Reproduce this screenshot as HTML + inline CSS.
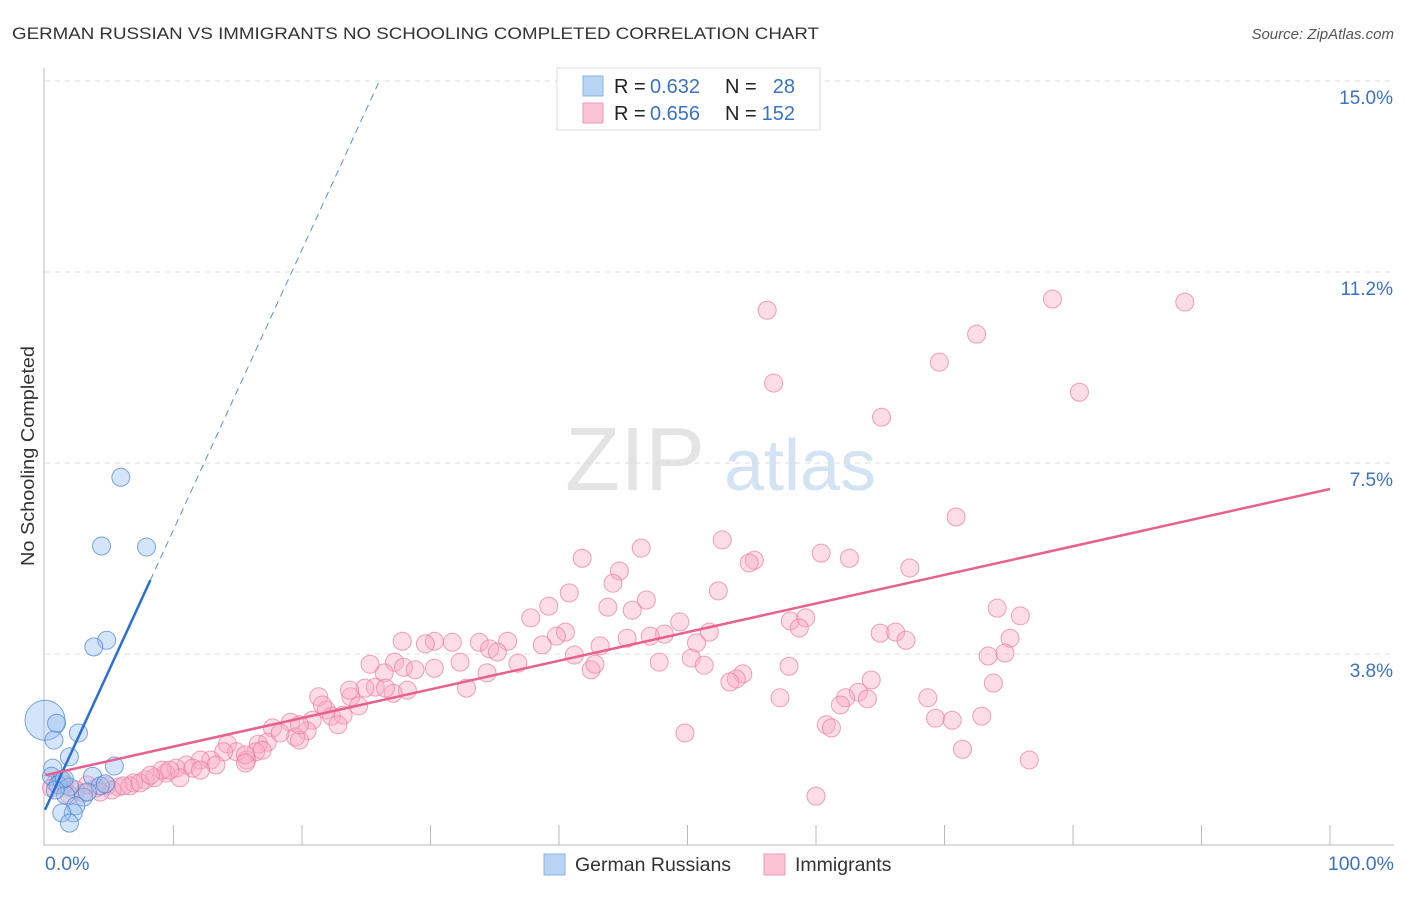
<!DOCTYPE html>
<html><head><meta charset="utf-8"><style>
body{margin:0;background:#fff;font-family:"Liberation Sans",sans-serif}
svg text{font-family:"Liberation Sans",sans-serif}
</style></head><body>
<svg id="chart" width="1406" height="892">
<text x="12" y="39" font-size="17" fill="#333" textLength="807" lengthAdjust="spacingAndGlyphs">GERMAN RUSSIAN VS IMMIGRANTS NO SCHOOLING COMPLETED CORRELATION CHART</text>
<text x="1394" y="39" font-size="15" fill="#555" font-style="italic" text-anchor="end">Source: ZipAtlas.com</text>
<text x="34" y="456" font-size="18" fill="#333" text-anchor="middle" textLength="220" lengthAdjust="spacingAndGlyphs" transform="rotate(-90 34 456)">No Schooling Completed</text>
<g><text x="635" y="490" font-size="90" fill="#e4e4e4" text-anchor="middle" font-family="Liberation Serif">ZIP</text><text x="800" y="490" font-size="72" fill="#d3e3f3" text-anchor="middle">atlas</text></g>
<g id="grid"></g><g id="axes"></g><g id="pts"></g><g id="lines"></g>
<g>
<rect x="557" y="68" width="263" height="62" fill="#fff" stroke="#ddd"/>
<rect x="583" y="76" width="20" height="20" fill="#b8d4f5" stroke="#8ab4e8"/>
<rect x="583" y="103" width="20" height="20" fill="#fac4d4" stroke="#f09ab5"/>
<text x="614" y="93" font-size="20" fill="#222">R =</text><text x="650" y="93" font-size="20" fill="#3a72c8">0.632</text>
<text x="725" y="93" font-size="20" fill="#222">N =</text><text x="795" y="93" font-size="20" fill="#3a72c8" text-anchor="end">28</text>
<text x="614" y="120" font-size="20" fill="#222">R =</text><text x="650" y="120" font-size="20" fill="#3a72c8">0.656</text>
<text x="725" y="120" font-size="20" fill="#222">N =</text><text x="795" y="120" font-size="20" fill="#3a72c8" text-anchor="end">152</text>
</g>
<g>
<rect x="544" y="854" width="21" height="21" fill="#b8d4f5" stroke="#8ab4e8"/>
<text x="575" y="871" font-size="19.5" fill="#333">German Russians</text>
<rect x="764" y="854" width="21" height="21" fill="#fac4d4" stroke="#f09ab5"/>
<text x="795" y="871" font-size="19.5" fill="#333">Immigrants</text>
</g>
</svg>
<script>
const yTicks=[3.75,7.5,11.25,15];
const yTickLabels=["3.8%","7.5%","11.2%","15.0%"];
const xTickLabels=["0.0%","100.0%"];
const blueX=[5.9,4.4,7.9,4.8,3.8,0,0.9,2.6,0.7,1.9,0.6,5.4,0.5,1.3,3.7,1.0,4.3,1.9,1.6,3.0,2.4,2.2,1.3,1.9,4.7,1.5,3.3,0.8];
const blueY=[7.22,5.87,5.85,4.02,3.89,2.45,2.39,2.20,2.06,1.73,1.51,1.55,1.35,1.28,1.35,1.18,1.16,1.14,0.98,0.94,0.77,0.63,0.63,0.43,1.20,1.30,1.04,1.08];
const pinkX=[56.2,78.4,88.7,72.5,69.6,56.7,80.5,65.1,70.9,41.8,46.4,52.7,55.2,54.8,60.4,62.6,67.3,44.7,44.2,40.8,52.4,46.8,39.2,43.8,45.7,37.8,74.1,75.9,58.0,59.2,58.7,49.4,48.2,40.5,39.8,51.7,47.1,45.3,65.0,66.2,67.0,75.1,30.3,31.7,29.6,27.8,33.8,34.6,36.0,35.2,36.8,38.7,43.2,50.7,41.2,32.3,27.2,27.9,28.8,30.3,26.4,25.3,47.8,50.3,51.3,54.3,53.8,53.3,42.5,42.8,57.9,74.7,73.4,64.3,73.8,34.4,32.8,28.2,27.1,25.7,24.9,23.8,21.3,24.4,26.5,57.2,63.3,62.3,61.9,64.0,68.7,69.3,70.6,72.9,21.9,22.3,20.8,23.2,17.7,19.1,20.4,22.8,19.5,19.8,17.3,16.6,60.8,61.2,49.8,71.4,76.6,60.0,14.2,14.9,13.9,16.4,15.7,16.9,12.9,12.1,13.3,11.0,11.5,10.2,9.4,8.5,7.8,6.9,5.7,4.8,4.0,3.3,2.4,1.5,0.8,0.5,6.6,9.1,10.5,12.1,3.0,5.2,7.4,1.9,1.2,4.3,6.1,8.2,9.7,15.6,18.3,19.8,21.6,23.7,15.6];
const pinkY=[10.50,10.72,10.66,10.03,9.48,9.07,8.89,8.40,6.44,5.63,5.83,5.99,5.59,5.54,5.73,5.63,5.44,5.38,5.14,4.95,4.99,4.81,4.69,4.67,4.61,4.46,4.65,4.50,4.40,4.46,4.26,4.38,4.14,4.18,4.10,4.18,4.10,4.06,4.16,4.18,4.02,4.06,4.00,3.98,3.95,4.00,3.98,3.85,4.00,3.79,3.57,3.93,3.91,3.97,3.73,3.59,3.59,3.49,3.44,3.47,3.38,3.55,3.59,3.67,3.53,3.36,3.26,3.20,3.44,3.55,3.51,3.77,3.71,3.24,3.18,3.38,3.08,3.04,2.98,3.10,3.08,2.91,2.91,2.73,3.08,2.89,3.00,2.89,2.75,2.87,2.89,2.49,2.45,2.53,2.65,2.53,2.45,2.55,2.30,2.41,2.24,2.36,2.12,2.06,2.02,1.98,2.36,2.30,2.20,1.88,1.67,0.96,1.98,1.83,1.83,1.83,1.67,1.86,1.67,1.67,1.57,1.57,1.51,1.51,1.41,1.32,1.28,1.22,1.14,1.16,1.12,1.18,1.08,1.18,1.22,1.12,1.16,1.47,1.32,1.47,1.02,1.08,1.22,0.98,1.28,1.04,1.16,1.37,1.47,1.77,2.20,2.36,2.75,3.04,1.61];
const blueFit=[0.69,0.55];   // intercept, slope
const pinkFit=[1.37,0.0562];
const NS="http://www.w3.org/2000/svg";
const X=v=>45+v*12.85, Y=v=>845-v*50.93;
function mk(p,t,a){const e=document.createElementNS(NS,t);for(const k in a)e.setAttribute(k,a[k]);document.getElementById(p).appendChild(e);return e;}
yTicks.forEach((t,i)=>{
 const g=mk('grid','line',{x1:45,x2:1394,y1:Y(t),y2:Y(t),stroke:'#ddd','stroke-dasharray':'5,5'});
 
 
 const l=mk('axes','text',{x:1393,y:Y(t)+23,'font-size':19,fill:'#3a72c8','text-anchor':'end'});l.textContent=yTickLabels[i];
 
 
});
const ax=mk('axes','path',{d:'M44,68V845H1394',stroke:'#bbb',fill:'none'});


for(let i=1;i<=10;i++){const t=mk('axes','line',{x1:X(i*10),x2:X(i*10),y1:825,y2:845,stroke:'#bbb'});
 
 }
[[0,'start',45],[100,'end',1394]].forEach((d,i)=>{const l=mk('axes','text',{x:d[2],y:870,'font-size':19.5,fill:'#3a72c8','text-anchor':d[1]});l.textContent=xTickLabels[i];
 
 });
pinkX.forEach((x,i)=>{const c=mk('pts','circle',{cx:X(x),cy:Y(pinkY[i]),r:9,fill:'rgba(248,170,195,0.4)',stroke:'rgba(236,120,160,0.7)','stroke-width':1});
 
 });
blueX.forEach((x,i)=>{const c=mk('pts','circle',{cx:X(x),cy:Y(blueY[i]),r:i==5?20:9,fill:'rgba(150,190,240,0.4)',stroke:'rgba(70,130,210,0.7)','stroke-width':1});
 
 });
const bEnd=8.2, bTop=(15-blueFit[0])/blueFit[1];
let l1=mk('lines','line',{x1:X(0),y1:Y(blueFit[0]),x2:X(bEnd),y2:Y(blueFit[0]+blueFit[1]*bEnd),stroke:'#2a6fd6','stroke-width':2.5});


let l2=mk('lines','line',{x1:X(bEnd),y1:Y(blueFit[0]+blueFit[1]*bEnd),x2:X(bTop),y2:Y(15),stroke:'#5b8fd8','stroke-width':1,'stroke-dasharray':'7,5'});


let l3=mk('lines','line',{x1:X(0),y1:Y(pinkFit[0]),x2:X(100),y2:Y(pinkFit[0]+pinkFit[1]*100),stroke:'#e8608e','stroke-width':2.5});


</script>
</body></html>
